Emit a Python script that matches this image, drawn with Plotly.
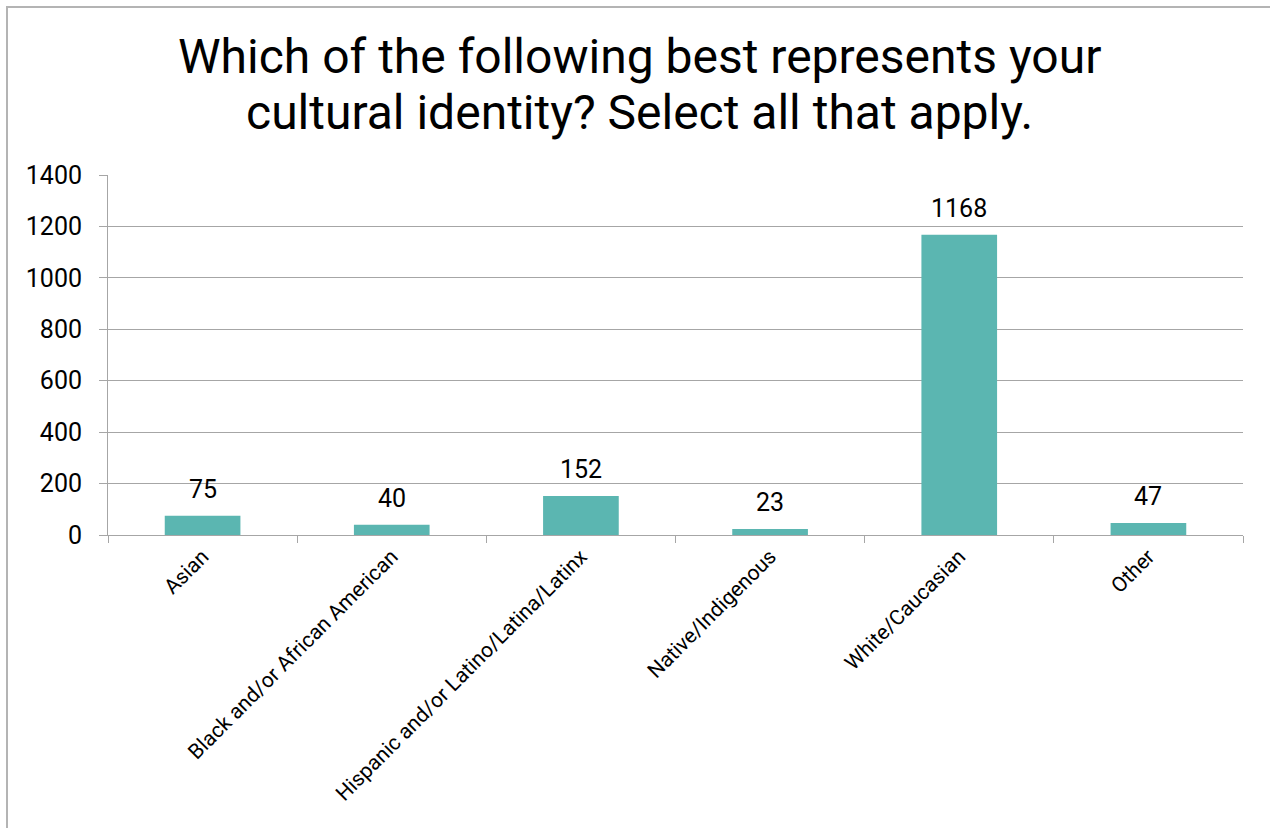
import plotly.graph_objects as go

categories = [
    "Asian",
    "Black and/or African American",
    "Hispanic and/or Latino/Latina/Latinx",
    "Native/Indigenous",
    "White/Caucasian",
    "Other",
]
counts = [75, 40, 152, 23, 1168, 47]
y_ticks = [0, 200, 400, 600, 800, 1000, 1200, 1400]

title_lines = [
    "Which of the following best represents your",
    "cultural identity? Select all that apply.",
]

W, H = 1270, 828
L, R, T, B = 108, 27, 175, 293
plot_w = W - L - R
plot_h = H - T - B

bar_color = "#5bb6b1"
grid_color = "#a6a6a6"
font_family = "Roboto, Arial, sans-serif"

fig = go.Figure(
    go.Bar(
        x=categories,
        y=counts,
        marker=dict(color=bar_color, line=dict(width=0)),
        width=0.4,
        hoverinfo="x+y",
    )
)

# value labels above each bar
for cat, val in zip(categories, counts):
    fig.add_annotation(
        x=cat, y=val, text=str(val), showarrow=False,
        yanchor="bottom", yshift=10,
        font=dict(family=font_family, size=25, color="#000000"),
    )

# two-line chart title, placed in pixel terms
for i, line in enumerate(title_lines):
    fig.add_annotation(
        xref="paper", yref="paper",
        x=(639 - L) / plot_w, xanchor="center",
        y=1 + (T - (56 + 57 * i)) / plot_h, yanchor="middle",
        text=line, showarrow=False,
        font=dict(family=font_family, size=48, color="#000000"),
    )

# outer chart border
fig.add_shape(
    type="rect", xref="paper", yref="paper",
    x0=(7 - L) / plot_w, x1=(W + 10 - L) / plot_w,
    y0=-(H + 10 - T - plot_h) / plot_h, y1=1 + (T - 7) / plot_h,
    line=dict(color="#b4b4b4", width=2), fillcolor="rgba(0,0,0,0)",
    layer="below",
)

fig.update_layout(
    width=W, height=H,
    margin=dict(l=L, r=R, t=T, b=B),
    paper_bgcolor="white", plot_bgcolor="white",
    showlegend=False,
    font=dict(family=font_family, color="#000000"),
)

fig.update_xaxes(
    type="category",
    range=[-0.5, len(categories) - 0.5],
    showline=True, linecolor=grid_color, linewidth=1,
    ticks="outside", tickson="boundaries", ticklen=7, tickcolor=grid_color,
    tickangle=-45,
    tickfont=dict(family=font_family, size=21, color="#000000"),
    showgrid=False,
)

fig.update_yaxes(
    range=[0, 1400],
    tickvals=y_ticks,
    showline=True, linecolor=grid_color, linewidth=1,
    ticks="outside", ticklen=8, tickcolor=grid_color,
    showgrid=True, gridcolor=grid_color, gridwidth=1,
    zeroline=False,
    tickfont=dict(family=font_family, size=25, color="#000000"),
    ticklabelstandoff=12,
)

fig.write_html("out.html")
